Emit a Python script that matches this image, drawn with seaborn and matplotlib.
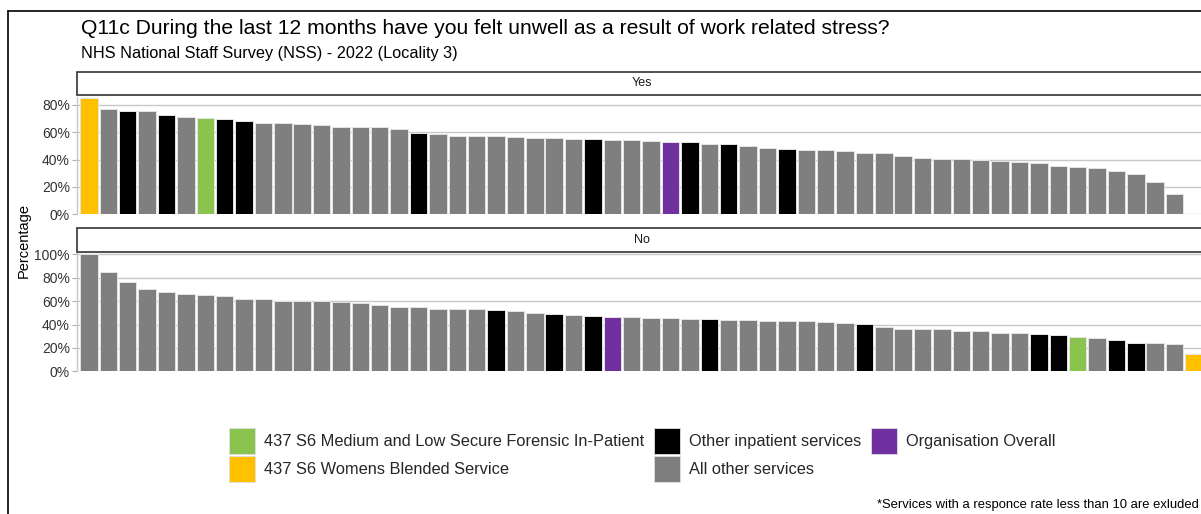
import matplotlib
matplotlib.use("Agg")
import matplotlib.pyplot as plt
from matplotlib.patches import Patch, Rectangle
from matplotlib.lines import Line2D
import seaborn as sns
import pandas as pd

# colour groups
GREEN = "437 S6 Medium and Low Secure Forensic In-Patient"
YELLOW = "437 S6 Womens Blended Service"
BLACK = "Other inpatient services"
GREY = "All other services"
PURPLE = "Organisation Overall"
group_order = [GREEN, YELLOW, BLACK, GREY, PURPLE]
palette = {GREEN: "#8BC34F", YELLOW: "#FFC000", BLACK: "#000000",
           GREY: "#7F7F7F", PURPLE: "#7030A0"}
code = {"G": GREEN, "Y": YELLOW, "K": BLACK, "A": GREY, "P": PURPLE}

# "Yes" panel, sorted high -> low
yes_values = [85.2, 76.9, 75.2, 75.2, 72.5, 71.0, 70.6, 69.3, 68.1, 66.9,
              66.9, 65.7, 65.2, 64.0, 63.7, 63.7, 62.3, 59.4, 58.4, 57.2,
              57.2, 57.2, 56.4, 56.0, 56.0, 55.2, 55.2, 54.5, 54.0, 53.5,
              53.0, 52.8, 51.6, 51.1, 50.1, 48.2, 47.4, 47.0, 47.0, 46.2,
              44.8, 44.8, 42.8, 41.1, 40.6, 40.1, 39.9, 39.2, 38.2, 37.5,
              35.3, 34.8, 33.6, 31.6, 29.2, 23.4, 15.1]
yes_groups = list("YAKAKAGKK" + "AAAAAAAA" + "K" + "AAAAAAAA" + "K" + "AAA"
                  + "PKAKAAK" + "A" * 20)

# "No" panel, sorted high -> low
no_values = [100.0, 84.8, 76.5, 70.5, 68.2, 66.2, 65.3, 64.5, 62.2, 61.9,
             60.5, 59.9, 59.9, 59.6, 58.5, 57.0, 55.0, 55.0, 53.6, 53.0,
             53.0, 52.4, 51.6, 49.6, 48.7, 47.9, 47.3, 46.7, 46.4, 45.6,
             45.3, 44.7, 44.7, 43.8, 43.8, 43.3, 42.7, 42.7, 42.4, 41.3,
             40.1, 37.5, 35.8, 35.8, 35.8, 34.4, 34.1, 33.0, 33.0, 32.1,
             30.9, 29.2, 28.7, 27.2, 24.6, 24.6, 23.2, 14.9]
no_groups = list("A" * 21 + "KAAKAKP" + "AAAA" + "K" + "A" * 7 + "K"
                 + "A" * 8 + "KKGAKKAAY")

n_slots = max(len(yes_values), len(no_values))

panels = [
    ("Yes", pd.DataFrame({"slot": range(len(yes_values)), "pct": yes_values,
                          "group": [code[c] for c in yes_groups]}), 86.0,
     [0, 20, 40, 60, 80]),
    ("No", pd.DataFrame({"slot": range(len(no_values)), "pct": no_values,
                         "group": [code[c] for c in no_groups]}), 101.8,
     [0, 20, 40, 60, 80, 100]),
]

sns.set_theme(style="white")
plt.rcParams["font.family"] = ["Liberation Sans", "DejaVu Sans"]

W, H = 1201, 514
fig = plt.figure(figsize=(W / 100, H / 100), dpi=100)


def fx(px):
    return px / W


def fy(py):
    return 1 - py / H


left, right = 77.3, 1205.6
# (panel top, panel bottom, strip top, strip bottom) in pixels
boxes = [(96.5, 214.3, 71.7, 95.3), (252.3, 371.3, 227.7, 251.5)]

for (label, df, ytop, ticks), (pt, pb, st, sb) in zip(panels, boxes):
    ax = fig.add_axes([fx(left), fy(pb), fx(right - left), (pb - pt) / H])
    sns.barplot(data=df, x="slot", y="pct", hue="group", palette=palette,
                order=list(range(n_slots)), dodge=False, width=0.9,
                saturation=1, edgecolor="#e4e4e4", linewidth=0.7,
                legend=False, ax=ax)
    ax.set_xlim(-0.6, n_slots - 1 + 0.6)
    ax.set_ylim(0, ytop)
    ax.set_yticks(ticks)
    ax.set_yticklabels([f"{t}%" for t in ticks])
    ax.set_xticks([])
    ax.set_xlabel("")
    ax.set_ylabel("")
    ax.yaxis.grid(True, color="#c8c8c8", linewidth=1.0)
    ax.set_axisbelow(True)
    for s in ["top", "right", "bottom"]:
        ax.spines[s].set_visible(False)
    ax.spines["left"].set_color("#c8c8c8")
    ax.spines["left"].set_linewidth(1.0)
    ax.tick_params(axis="y", left=True, length=3.8, width=0.8,
                   color="#b0b0b0", pad=1.5, labelsize=10,
                   labelcolor="#333333")

    # facet strip
    sax = fig.add_axes([fx(left), fy(sb), fx(right - left), (sb - st) / H])
    sax.set_xlim(0, 1)
    sax.set_ylim(0, 1)
    sax.axis("off")
    sax.add_patch(Rectangle((0, 0), 1, 1, transform=sax.transAxes,
                            facecolor="white", edgecolor="#333333",
                            linewidth=1.2, clip_on=False))
    fig.text(fx(642), fy((st + sb) / 2), label, ha="center", va="center",
             fontsize=9, color="#1a1a1a")

# titles
fig.text(fx(81), fy(34), "Q11c During the last 12 months have you felt "
         "unwell as a result of work related stress?", fontsize=15.2,
         color="#000000", va="baseline", ha="left")
fig.text(fx(81), fy(58), "NHS National Staff Survey (NSS) - 2022 (Locality 3)",
         fontsize=11.7, color="#000000", va="baseline", ha="left")

fig.text(fx(24), fy(240), "Percentage", rotation=90, ha="center",
         va="center", fontsize=10.5, color="#000000")

handles = [Patch(facecolor=palette[g], edgecolor="#e0e0e0", linewidth=0.6,
                 label=g) for g in group_order]
fig.legend(handles=handles, ncol=3, loc="upper left",
           bbox_to_anchor=(fx(229), fy(428)), frameon=False, fontsize=11.75,
           handlelength=1.6, handleheight=2.08, handletextpad=0.55,
           columnspacing=0.6, labelspacing=0.1, borderpad=0,
           borderaxespad=0)

fig.text(fx(1199), fy(505), "*Services with a responce rate less than 10 "
         "are exluded", ha="right", va="center", fontsize=9.4,
         color="#000000")

# outer frame of the report box
fig.add_artist(Line2D([fx(8), fx(8)], [0, fy(11)], color="#000000",
                      linewidth=1.2, transform=fig.transFigure))
fig.add_artist(Line2D([fx(8), 1], [fy(11), fy(11)], color="#000000",
                      linewidth=1.2, transform=fig.transFigure))

fig.savefig("out.png", dpi=100, facecolor="white")
